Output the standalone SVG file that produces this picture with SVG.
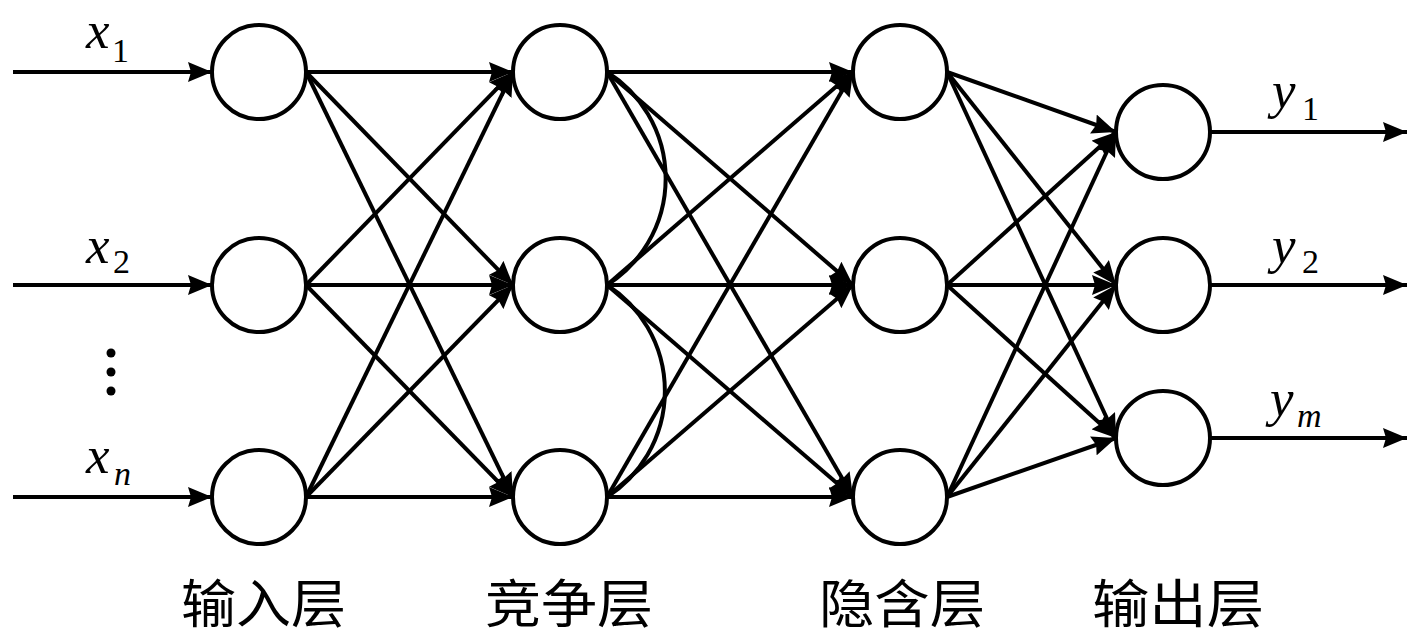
<svg xmlns="http://www.w3.org/2000/svg" width="1417" height="638" viewBox="0 0 1417 638">
<defs>
<marker id="ah" viewBox="0 0 24 20" refX="24" refY="10" markerWidth="24" markerHeight="20" markerUnits="userSpaceOnUse" orient="auto">
<path d="M0,0 L24,10 L0,20 L3,10 z" fill="#000"/>
</marker>
<style>
.n{fill:#fff;stroke:#000;stroke-width:4}
.e{stroke:#000;stroke-width:4;fill:none;marker-end:url(#ah)}
.a{stroke:#000;stroke-width:4;fill:none}
.v{font-family:"Liberation Serif",serif;font-style:italic;font-size:53px;fill:#000}
.s{font-family:"Liberation Serif",serif;font-size:34px;fill:#000}
.si{font-family:"Liberation Serif",serif;font-style:italic;font-size:34px;fill:#000}
.c{font-family:"Noto Sans CJK SC",sans-serif;font-size:52px;fill:#000}
</style>
</defs>
<rect width="1417" height="638" fill="#fff"/>
<g id="connectors">
<line class="e" x1="13" y1="72" x2="212" y2="72"/>
<line class="e" x1="13" y1="285" x2="212" y2="285"/>
<line class="e" x1="13" y1="497" x2="212" y2="497"/>
<line class="e" x1="306" y1="72" x2="513" y2="72"/>
<line class="e" x1="306" y1="72" x2="513" y2="285"/>
<line class="e" x1="306" y1="72" x2="513" y2="497"/>
<line class="e" x1="306" y1="285" x2="513" y2="72"/>
<line class="e" x1="306" y1="285" x2="513" y2="285"/>
<line class="e" x1="306" y1="285" x2="513" y2="497"/>
<line class="e" x1="306" y1="497" x2="513" y2="72"/>
<line class="e" x1="306" y1="497" x2="513" y2="285"/>
<line class="e" x1="306" y1="497" x2="513" y2="497"/>
<path class="a" d="M607,72 A126,126 0 0 1 607,285"/>
<path class="a" d="M607,285 A126,126 0 0 1 607,497"/>
<line class="e" x1="607" y1="72" x2="853" y2="72"/>
<line class="e" x1="607" y1="72" x2="853" y2="285"/>
<line class="e" x1="607" y1="72" x2="853" y2="497"/>
<line class="e" x1="607" y1="285" x2="853" y2="72"/>
<line class="e" x1="607" y1="285" x2="853" y2="285"/>
<line class="e" x1="607" y1="285" x2="853" y2="497"/>
<line class="e" x1="607" y1="497" x2="853" y2="72"/>
<line class="e" x1="607" y1="497" x2="853" y2="285"/>
<line class="e" x1="607" y1="497" x2="853" y2="497"/>
<line class="e" x1="947" y1="72" x2="1116" y2="132"/>
<line class="e" x1="947" y1="72" x2="1116" y2="285"/>
<line class="e" x1="947" y1="72" x2="1116" y2="438"/>
<line class="e" x1="947" y1="285" x2="1116" y2="132"/>
<line class="e" x1="947" y1="285" x2="1116" y2="285"/>
<line class="e" x1="947" y1="285" x2="1116" y2="438"/>
<line class="e" x1="947" y1="497" x2="1116" y2="132"/>
<line class="e" x1="947" y1="497" x2="1116" y2="285"/>
<line class="e" x1="947" y1="497" x2="1116" y2="438"/>
<line class="e" x1="1210" y1="132" x2="1407" y2="132"/>
<line class="e" x1="1210" y1="285" x2="1407" y2="285"/>
<line class="e" x1="1210" y1="438" x2="1407" y2="438"/>
</g>
<g id="in1"><circle class="n" cx="259" cy="72" r="47"/></g>
<g id="in2"><circle class="n" cx="259" cy="285" r="47"/></g>
<g id="in3"><circle class="n" cx="259" cy="497" r="47"/></g>
<g id="comp1"><circle class="n" cx="560" cy="72" r="47"/></g>
<g id="comp2"><circle class="n" cx="560" cy="285" r="47"/></g>
<g id="comp3"><circle class="n" cx="560" cy="497" r="47"/></g>
<g id="hid1"><circle class="n" cx="900" cy="72" r="47"/></g>
<g id="hid2"><circle class="n" cx="900" cy="285" r="47"/></g>
<g id="hid3"><circle class="n" cx="900" cy="497" r="47"/></g>
<g id="out1"><circle class="n" cx="1163" cy="132" r="47"/></g>
<g id="out2"><circle class="n" cx="1163" cy="285" r="47"/></g>
<g id="out3"><circle class="n" cx="1163" cy="438" r="47"/></g>
<g id="labels">
<text class="v" x="86" y="48">x</text><text class="s" x="112" y="62">1</text>
<text class="v" x="86" y="263">x</text><text class="s" x="113" y="273">2</text>
<text class="v" x="86" y="473">x</text><text class="si" x="114" y="485">n</text>
<circle cx="111" cy="353" r="4.5" fill="#000"/>
<circle cx="111" cy="372" r="4.5" fill="#000"/>
<circle cx="111" cy="391" r="4.5" fill="#000"/>
<text class="v" x="1272" y="108">y</text><text class="s" x="1302" y="120">1</text>
<text class="v" x="1272" y="263">y</text><text class="s" x="1302" y="273">2</text>
<text class="v" x="1270" y="416">y</text><text class="si" x="1297" y="427">m</text>
<text class="c" x="181" y="623" textLength="165" lengthAdjust="spacingAndGlyphs">输入层</text>
<text class="c" x="485" y="623" textLength="168" lengthAdjust="spacingAndGlyphs">竞争层</text>
<text class="c" x="819" y="623" textLength="166" lengthAdjust="spacingAndGlyphs">隐含层</text>
<text class="c" x="1092" y="623" textLength="172" lengthAdjust="spacingAndGlyphs">输出层</text>
</g>
</svg>
